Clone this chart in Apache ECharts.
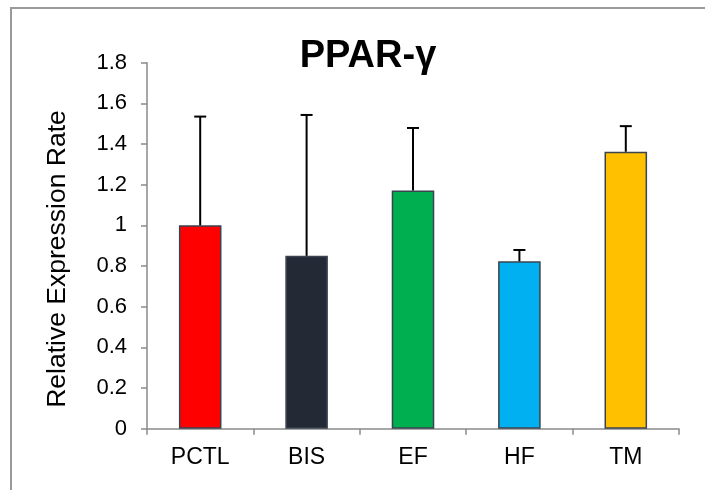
<!DOCTYPE html>
<html>
<head>
<meta charset="utf-8">
<script src="https://cdn.jsdelivr.net/npm/echarts@6/dist/echarts.min.js"></script>
<style>
html,body{margin:0;padding:0;background:#fff;}
#c{width:705px;height:490px;}
</style>
</head>
<body>
<div id="c"></div>
<script>
const categories = ['PCTL', 'BIS', 'EF', 'HF', 'TM'];
const values = [1.0, 0.85, 1.171, 0.823, 1.362];
const errors = [0.535, 0.693, 0.308, 0.056, 0.126];
const barColors = ['#FF0000', '#242A35', '#00B050', '#00B0F0', '#FFC000'];
const yTickLabels = ['0', '0.2', '0.4', '0.6', '0.8', '1', '1.2', '1.4', '1.6', '1.8'];
const titleText = 'PPAR-γ';
const yAxisTitle = 'Relative Expression Rate';

const FONT = 'Liberation Sans, Arial, Helvetica, sans-serif';
const AXIS_COLOR = '#8a8a8a';

const chart = echarts.init(document.getElementById('c'), null, {renderer: 'canvas'});

const option = {
  backgroundColor: '#fff',
  animation: false,
  title: {
    text: titleText,
    left: 363,
    top: 33,
    textAlign: 'center',
    textStyle: {fontFamily: FONT, fontSize: 38, fontWeight: 'bold', color: '#000'}
  },
  grid: {left: 147, right: 26, top: 62.7, bottom: 61.3, containLabel: false},
  xAxis: {
    type: 'category',
    data: categories,
    boundaryGap: true,
    axisLine: {show: true, lineStyle: {color: AXIS_COLOR, width: 1.5}},
    axisTick: {show: true, alignWithLabel: false, length: 6, lineStyle: {color: AXIS_COLOR, width: 1.5}},
    axisLabel: {margin: 17, fontFamily: FONT, fontSize: 23, color: '#000'},
    splitLine: {show: false}
  },
  yAxis: {
    type: 'value',
    min: 0, max: 1.8, interval: 0.2,
    axisLine: {show: true, lineStyle: {color: AXIS_COLOR, width: 1.5}},
    axisTick: {show: true, length: 6, lineStyle: {color: AXIS_COLOR, width: 1.5}},
    axisLabel: {
      margin: 20, fontFamily: FONT, fontSize: 22, color: '#000',
      formatter: v => yTickLabels[Math.round(v / 0.2)]
    },
    splitLine: {show: false}
  },
  graphic: [
    {
      type: 'rect', silent: true, z: -10,
      shape: {x: 11, y: 8, width: 720, height: 520},
      style: {fill: 'none', stroke: '#9a9a9a', lineWidth: 2}
    },
    {
      type: 'text', silent: true,
      x: 57.5, y: 259, rotation: Math.PI / 2,
      style: {
        text: yAxisTitle, fontFamily: FONT, fontSize: 26.5, fill: '#000',
        align: 'center', verticalAlign: 'middle'
      }
    }
  ],
  series: [
    {
      type: 'bar',
      barWidth: '40%',
      data: values.map((v, i) => ({
        value: v,
        itemStyle: {color: barColors[i], borderColor: '#3a4350', borderWidth: 1.5}
      })),
      z: 2
    },
    {
      type: 'custom',
      z: 5,
      data: categories.map((c, i) => [i, values[i], errors[i]]),
      renderItem: function (params, api) {
        const x = api.value(0), v = api.value(1), e = api.value(2);
        const base = api.coord([x, v]);
        const top = api.coord([x, v + e]);
        const half = 6;
        const st = {stroke: '#000', lineWidth: 2};
        return {
          type: 'group',
          children: [
            {type: 'line', shape: {x1: base[0], y1: base[1], x2: top[0], y2: top[1]}, style: st},
            {type: 'line', shape: {x1: top[0] - half, y1: top[1], x2: top[0] + half, y2: top[1]}, style: st}
          ]
        };
      }
    }
  ]
};
chart.setOption(option);
</script>
</body>
</html>
